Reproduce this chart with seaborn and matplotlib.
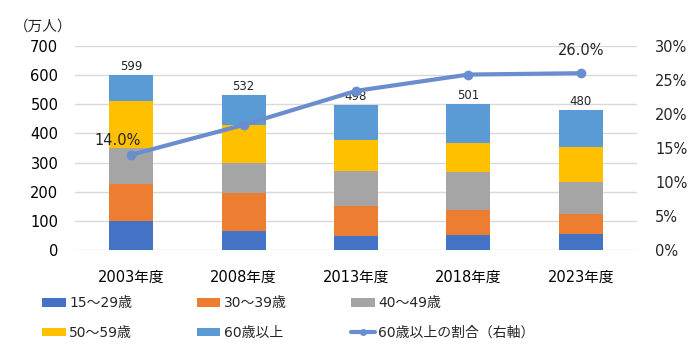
import numpy as np
import pandas as pd
import matplotlib
matplotlib.use("Agg")
import matplotlib.pyplot as plt
import seaborn as sns
from matplotlib.patches import Patch
from matplotlib.lines import Line2D

years = ["2003年度", "2008年度", "2013年度", "2018年度", "2023年度"]
age_15_29 = [100, 66, 48, 51, 55]
age_30_39 = [127, 131, 103, 86, 70]
age_40_49 = [122, 100, 120, 131, 108]
age_50_59 = [163, 132, 106, 98, 121]
age_60_up = [87, 103, 121, 135, 126]
totals = [599, 532, 498, 501, 480]
share_60 = [14.0, 18.4, 23.4, 25.8, 26.0]

series_names = ["15～29歳", "30～39歳", "40～49歳", "50～59歳", "60歳以上"]
series_vals = [age_15_29, age_30_39, age_40_49, age_50_59, age_60_up]
colors = ["#4472C4", "#ED7D31", "#A5A5A5", "#FFC000", "#5B9BD5"]
line_color = "#6A8DCF"

sns.set_theme(style="white")
plt.rcParams["font.family"] = ["DejaVu Sans", "Noto Sans CJK JP"]

fig = plt.figure(figsize=(7.0, 3.51), dpi=100)
ax = fig.add_axes([75/700, 1-250/351, (637-75)/700, (250-46)/351])

cum = np.cumsum(np.array(series_vals), axis=0)
df = pd.DataFrame({"year": years})
# draw from top layer down so lower layers cover upper cumulative bars
for i in range(len(series_names)-1, -1, -1):
    df["v"] = cum[i]
    sns.barplot(data=df, x="year", y="v", color=colors[i], width=0.39,
                saturation=1, ax=ax, zorder=2, linewidth=0)

ax.set_ylim(0, 700)
ax.set_xlim(-0.5, 4.5)
ax.set_yticks(np.arange(0, 701, 100))
ax.yaxis.grid(True, color="#D9D9D9", linewidth=1)
ax.set_axisbelow(True)
for s in ax.spines.values():
    s.set_visible(False)
ax.set_xlabel("")
ax.set_ylabel("")
ax.tick_params(axis="both", length=0, labelsize=10.5, colors="#000000")
ax.tick_params(axis="x", pad=14)
ax.tick_params(axis="y", pad=12)

for i, t in enumerate(totals):
    ax.text(i, cum[-1][i] + 8, str(t), ha="center", va="bottom", fontsize=8.5)

ax2 = ax.twinx()
xs = np.arange(len(years))
sns.lineplot(x=xs, y=share_60, ax=ax2, color=line_color, linewidth=3,
             marker="o", markersize=7, markeredgewidth=0, zorder=5)
ax2.set_ylim(0, 30)
ax2.set_yticks(np.arange(0, 31, 5))
ax2.set_yticklabels([f"{v}%" for v in range(0, 31, 5)])
for s in ax2.spines.values():
    s.set_visible(False)
ax2.tick_params(axis="y", length=0, labelsize=10.5, pad=13)
ax2.set_ylabel("")
ax2.grid(False)

ax2.text(xs[0] - 0.12, share_60[0] + 1.0, f"{share_60[0]:.1f}%", ha="center",
         va="bottom", fontsize=10.5)
ax2.text(xs[-1], share_60[-1] + 2.3, f"{share_60[-1]:.1f}%", ha="center",
         va="bottom", fontsize=10.5)

fig.text(14/700, 1-26/351, "（万人）", ha="left", va="center", fontsize=10.5)

handles = [Patch(facecolor=c, edgecolor="none") for c in colors]
handles.append(Line2D([0], [0], color=line_color, lw=3, marker="o",
                      markersize=5, markeredgewidth=0))
labels = series_names + ["60歳以上の割合（右軸）"]
order = [0, 3, 1, 4, 2, 5]
fig.legend([handles[k] for k in order], [labels[k] for k in order], ncol=3,
           loc="upper left", bbox_to_anchor=(42/700, 1-296/351), frameon=False,
           fontsize=10, handlelength=1.7, handleheight=0.6, handletextpad=0.25,
           columnspacing=4.65, labelspacing=1.15, borderaxespad=0, borderpad=0)

fig.savefig("out.png", dpi=100)
